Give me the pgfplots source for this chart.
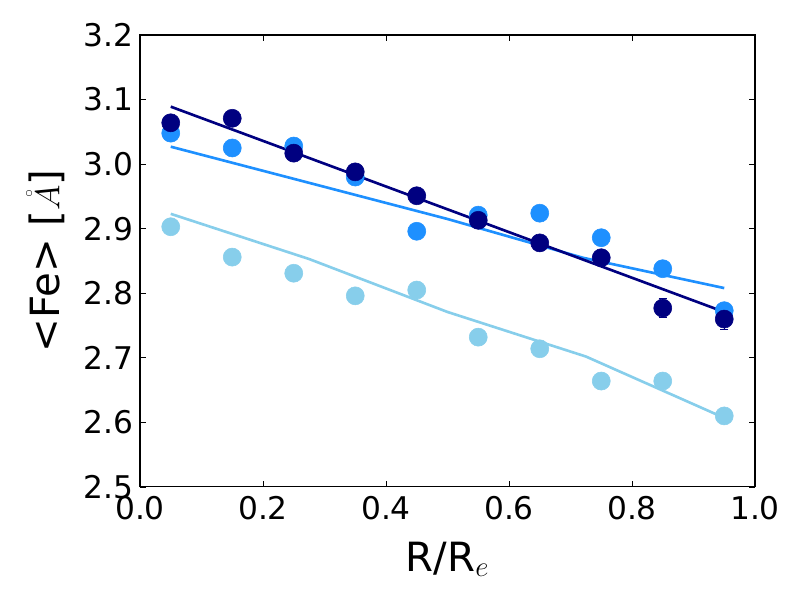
\documentclass[border=0pt]{standalone}
\usepackage{fontspec}
\setmainfont{DejaVu Sans}
\usepackage{pgfplots}
\pgfplotsset{compat=1.18}
\usetikzlibrary{calc}
\definecolor{navyc}{RGB}{0,0,128}
\definecolor{dodger}{RGB}{30,144,255}
\definecolor{skyb}{RGB}{135,206,235}
\begin{document}
\begin{tikzpicture}
\begin{axis}[
  scale only axis,
  width=442.8pt, height=325.4pt,
  xmin=0, xmax=1, ymin=2.5, ymax=3.2,
  xtick={0,0.2,0.4,0.6,0.8,1.0},
  ytick={2.5,2.6,2.7,2.8,2.9,3.0,3.1,3.2},
  xticklabel style={yshift=-3pt, /pgf/number format/.cd,fixed,fixed zerofill,precision=1},
  yticklabel style={xshift=-1.5pt, /pgf/number format/.cd,fixed,fixed zerofill,precision=1},
  /pgf/number format/assume math mode=true,
  tick label style={font=\fontsize{22.5}{26}\selectfont},
  tick align=inside, major tick length=4pt,
  axis line style={black, line width=0.8pt},
  every tick/.style={black, line width=0.6pt},
  xlabel={R/R$_e$}, ylabel={<Fe> [$\mathring{A}$]},
  label style={font=\fontsize{29}{33}\selectfont},
  xlabel style={at={(axis description cs:0.5,0)}, anchor=center, yshift=-52pt},
  ylabel style={at={(axis description cs:0,0.5)}, anchor=center, yshift=68pt},
  clip=false,
]
% sky blue
\addplot[skyb, line width=1.9pt] coordinates {(0.05,2.923) (0.275,2.853) (0.5,2.771) (0.725,2.702) (0.95,2.607)};
\addplot[only marks, mark=*, mark size=6.5pt, mark options={draw=skyb, fill=skyb}] coordinates {
(0.05,2.903) (0.15,2.856) (0.25,2.831) (0.35,2.796) (0.45,2.805) (0.55,2.732) (0.65,2.714) (0.75,2.664) (0.85,2.664) (0.95,2.610)};
% dodger blue
\addplot[dodger, line width=1.9pt] coordinates {(0.05,3.027) (0.5,2.915) (0.72,2.855) (0.95,2.808)};
\addplot[only marks, mark=*, mark size=6.5pt, mark options={draw=dodger, fill=dodger}] coordinates {
(0.05,3.048) (0.15,3.025) (0.25,3.028) (0.35,2.980) (0.45,2.896) (0.55,2.921) (0.65,2.924) (0.75,2.886) (0.85,2.838) (0.95,2.773)};
% navy
\addplot[navyc, line width=1.9pt] coordinates {(0.05,3.089) (0.95,2.771)};
\addplot[only marks, mark=*, mark size=6.5pt, mark options={draw=navyc, fill=navyc},
  error bars/.cd, y dir=both, y explicit, error bar style={navyc, line width=0.6pt},
  error mark options={rotate=90, mark size=3pt, navyc, line width=0.6pt}] coordinates {
(0.05,3.064) +- (0,0.004) (0.15,3.071) +- (0,0.003) (0.25,3.017) +- (0,0.005) (0.35,2.988) +- (0,0.004) (0.45,2.951) +- (0,0.004) (0.55,2.913) +- (0,0.005) (0.65,2.878) +- (0,0.005) (0.75,2.855) +- (0,0.006) (0.85,2.777) +- (0,0.0145) (0.95,2.760) +- (0,0.0165)};
\end{axis}
\pgfresetboundingbox
\path[use as bounding box] ($(current axis.south west)+(-100.8pt,-81.4pt)$) rectangle ($(current axis.north east)+(32.4pt,25.2pt)$);
\end{tikzpicture}
\end{document}
